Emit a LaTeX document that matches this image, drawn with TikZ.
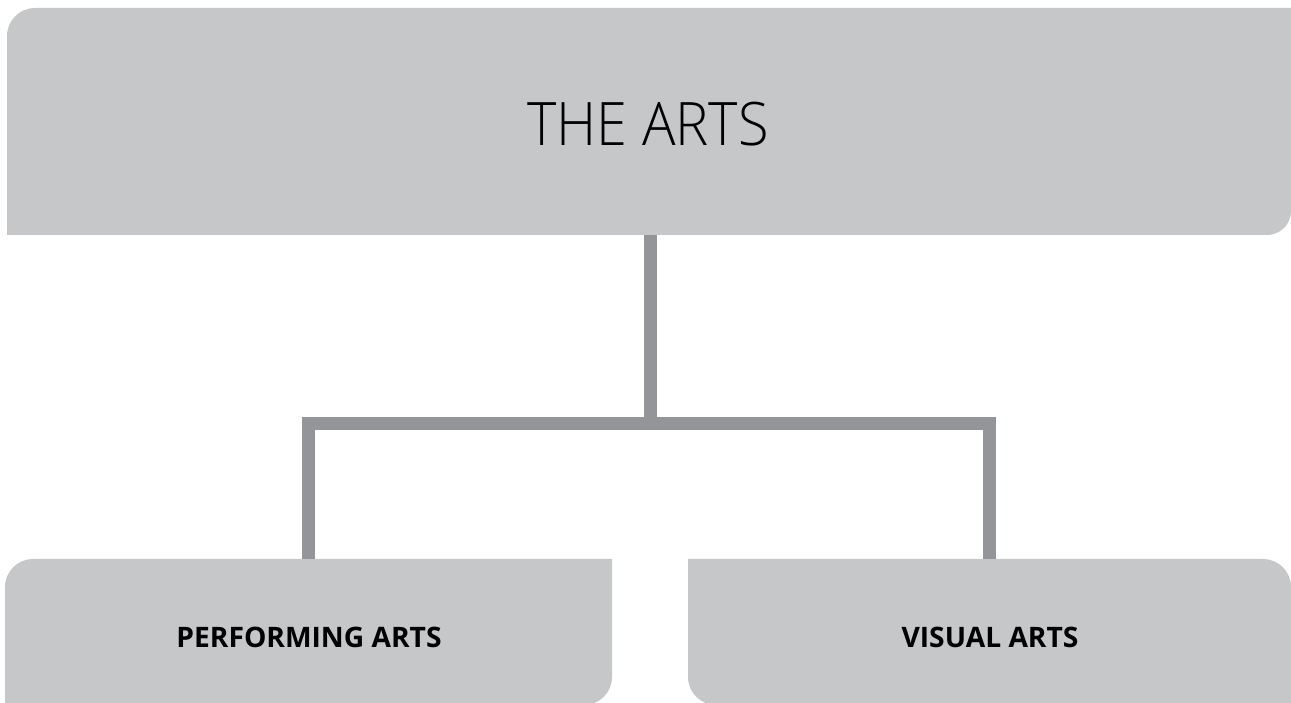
\documentclass[tikz,border=0pt]{standalone}
\usepackage{fontspec}
\setmainfont{Open Sans}
\newfontfamily\lightfont{Open Sans Light}[FakeStretch=0.93]
\definecolor{boxgray}{HTML}{C6C7C9}
\definecolor{linegray}{HTML}{939598}
\tikzset{
  boxarea/.style={inner sep=0pt, outer sep=0pt},
  conn/.style={draw=linegray, line width=13pt, line join=miter, line cap=butt},
  titletext/.style={font=\lightfont\fontsize{60}{60}\selectfont, text=black, inner sep=0pt},
  subtext/.style={font=\bfseries\fontsize{28.2}{28.2}\selectfont, text=black, inner sep=0pt},
}
\begin{document}
\begin{tikzpicture}[x=1pt,y=1pt]
\useasboundingbox (0,0) rectangle (1291,703);
% box areas
\node[boxarea, minimum width=1284pt, minimum height=227pt] (top) at (649,581.5) {};
\node[boxarea, minimum width=607pt, minimum height=146pt] (perfbox) at (308.5,71) {};
\node[boxarea, minimum width=603pt, minimum height=146pt] (visbox) at (989.5,71) {};
% shapes
\fill[boxgray] (top.south west) -- ([yshift=-28pt]top.north west)
  arc[start angle=180, end angle=90, radius=28pt] -- (top.north east)
  -- ([yshift=24pt]top.south east) arc[start angle=0, end angle=-90, radius=24pt] -- cycle;
\fill[boxgray] (perfbox.south west) -- ([yshift=-28pt]perfbox.north west)
  arc[start angle=180, end angle=90, radius=28pt] -- (perfbox.north east)
  -- ([yshift=28pt]perfbox.south east) arc[start angle=0, end angle=-90, radius=28pt] -- cycle;
\fill[boxgray] (visbox.north west) -- ([xshift=-28pt]visbox.north east)
  arc[start angle=90, end angle=0, radius=28pt] -- (visbox.south east)
  -- ([xshift=28pt]visbox.south west) arc[start angle=270, end angle=180, radius=28pt] -- cycle;
% texts
\node[titletext] (arts) at (648,578.5) {THE ARTS};
\node[subtext] (perf) at (309,65.5) {PERFORMING ARTS};
\node[subtext] (vis) at (990,65.5) {VISUAL ARTS};
% connectors
\coordinate (hub) at (650,279.7);
\draw[conn] (top.south -| hub) -- (hub);
\draw[conn] (perfbox.north) |- (hub) -| (visbox.north);
\end{tikzpicture}
\end{document}
